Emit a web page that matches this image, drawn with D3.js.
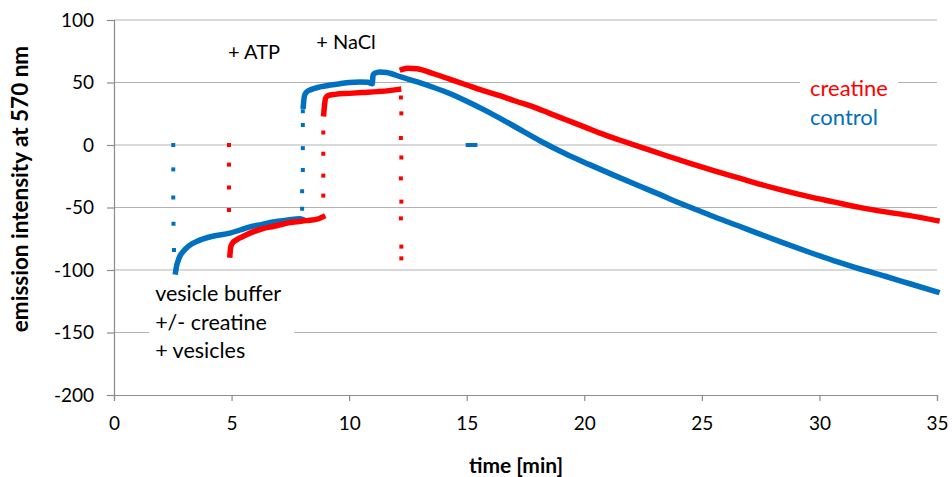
<!DOCTYPE html>
<html>
<head>
<meta charset="utf-8">
<script src="https://cdn.jsdelivr.net/npm/d3@7"></script>
<style>
  html, body { margin: 0; padding: 0; background: #fff; }
  svg { display: block; font-family: Lato, "Noto Sans", sans-serif; }
</style>
</head>
<body>
<svg id="chart" width="952" height="477"></svg>
<script>
// Emission at 570 nm over time; injections appear as isolated points.
const xTicks = [0, 5, 10, 15, 20, 25, 30, 35];
const yTicks = [100, 50, 0, -50, -100, -150, -200];

// control trace, one array per continuous stretch: [time min, intensity]
const controlRise = [
  [2.62,-101.5],[2.66,-97],[2.72,-93],[2.8,-89],[2.95,-85],[3.2,-80.5],[3.6,-76.5],
  [4.2,-73],[4.93,-70.5],[5.36,-68],[5.78,-65.5],[6.3,-63.5],[6.77,-61.5],[7.4,-60],[7.9,-59],[8.0,-59.5]
];
const controlAfterAtp = [
  [8.05,31],[8.08,37],[8.12,40.5],[8.2,42.5],[8.4,44.5],[8.76,46.5],[9.2,48],[9.6,49],
  [10.0,50],[10.46,50.5],[10.8,50.2],[10.98,49],[11.02,56],[11.1,57.5],[11.3,58.5],[11.6,58],
  [12.2,54.5],[12.9,50.5],[13.6,46],[14.3,41],[15.0,35],[15.7,28.5],[16.4,21.5],[17.3,12],
  [18.15,3],[19.2,-7],[20.2,-15.5],[21.3,-24.5],[22.37,-33],[23.2,-39.5],[24.0,-46],[24.8,-52],
  [25.6,-58],[26.6,-65],[27.5,-71.5],[28.5,-78.5],[29.6,-86],[30.6,-92.5],[31.7,-99],
  [32.8,-105],[33.85,-111],[35,-117.5]
];
const controlPoints = [
  [2.52,0],[2.52,-19.5],[2.52,-42],[2.53,-63],[2.55,-84],
  [8.03,27],[8.03,16],[8.03,-2.5],[8.03,-20],[8.0,-37],[8.0,-51],
  [15.04,0],[15.15,0],[15.26,0],[15.37,0]
];

// creatine trace
const creatineRise = [
  [4.93,-88],[4.96,-82],[5.02,-79],[5.2,-76],[5.5,-73],[5.78,-70.5],[6.3,-67],[6.8,-65],
  [7.5,-62],[8.2,-60.5],[8.7,-59],[8.88,-57.5]
];
const creatineAfterAtp = [
  [8.92,25],[8.96,33],[9.0,37.5],[9.1,39.5],[9.4,40.5],[10,41.3],[10.6,42],[11.2,42.7],
  [11.7,43.5],[12.1,44.5]
];
const creatineAfterNaCl = [
  [12.26,60.5],[12.5,61.5],[12.9,61],[13.6,57],[14.3,52.5],[15.0,48],[15.7,43.5],[16.4,39.5],
  [17.1,35],[17.83,30.5],[18.5,25.5],[19.25,20],[20.0,14.5],[20.67,9.5],[21.5,4],[22.37,-1.5],
  [23.4,-8],[24.5,-14.7],[25.5,-20.5],[26.6,-26.5],[27.5,-31.5],[28.5,-36.5],[29.6,-41.5],
  [30.6,-45.5],[31.7,-49.9],[32.8,-53.5],[33.85,-56.5],[35,-60.5]
];
const creatinePoints = [
  [4.89,0],[4.89,-15.7],[4.89,-34],[4.89,-52],
  [8.9,10],[8.9,-7],[8.9,-24.5],[8.9,-40.5],
  [12.2,38],[12.22,25.3],[12.2,5.6],[12.22,-10],[12.2,-26.7],[12.22,-45.3],[12.2,-58.7],
  [12.22,-81.3],[12.22,-90.7]
];

const seriesNames = ["creatine", "control"];
const seriesColors = ["#ff0000", "#0070c0"];
const annotations = [
  { t: 4.85, v: 69, lines: ["+ ATP"] },
  { t: 8.6, v: 77, lines: ["+ NaCl"] },
  { t: 1.75, v: -125, lines: ["vesicle buffer", "+/- creatine", "+ vesicles"] }
];

const svg = d3.select("#chart");
const x = d3.scaleLinear().domain([0, 35]).range([114, 937]);
const y = d3.scaleLinear().domain([-200, 100]).range([395, 20]);

// horizontal gridlines
svg.append("g").selectAll("line").data(yTicks.filter(d => d > -200)).join("line")
  .attr("x1", x(0)).attr("x2", x(35))
  .attr("y1", d => y(d)).attr("y2", d => y(d))
  .attr("stroke", "#b3b3b3").attr("stroke-width", 1.2);

// axes (plain hyphen for negative labels)
const yAxis = svg.append("g").attr("transform", `translate(${x(0)},0)`)
  .call(d3.axisLeft(y).tickValues(yTicks).tickFormat(d => String(d)).tickSize(7).tickPadding(13));
const xAxis = svg.append("g").attr("transform", `translate(0,${y(-200)})`)
  .call(d3.axisBottom(x).tickValues(xTicks).tickFormat(d => String(d)).tickSize(6).tickPadding(16));
[yAxis, xAxis].forEach(a => {
  a.select(".domain").attr("stroke", "#8c8c8c").attr("stroke-width", 1.2);
  a.selectAll(".tick line").attr("stroke", "#8c8c8c").attr("stroke-width", 1.2);
  a.selectAll("text").attr("fill", "#000").style("font-size", "19px").style("font-family", "Lato, sans-serif");
});

// axis titles
svg.append("text").attr("x", 516).attr("y", 473)
  .attr("text-anchor", "middle").style("font-weight", "bold").style("font-size", "21px")
  .text("time [min]");
svg.append("text").attr("transform", "translate(28,189) rotate(-90)")
  .attr("text-anchor", "middle").style("font-weight", "bold").style("font-size", "22.5px")
  .text("emission intensity at 570 nm");

// traces
const line = d3.line().x(d => x(d[0])).y(d => y(d[1])).curve(d3.curveMonotoneX);
const traces = [
  { data: controlRise, c: 1 }, { data: controlAfterAtp, c: 1 },
  { data: creatineRise, c: 0 }, { data: creatineAfterAtp, c: 0 }, { data: creatineAfterNaCl, c: 0 }
];
svg.append("g").selectAll("path").data(traces).join("path")
  .attr("d", d => line(d.data))
  .attr("fill", "none")
  .attr("stroke", d => seriesColors[d.c])
  .attr("stroke-width", 5.5)
  .attr("stroke-linejoin", "round")
  .attr("stroke-linecap", "square");

// isolated readings during injections
const pointSets = [{ data: controlPoints, c: 1 }, { data: creatinePoints, c: 0 }];
pointSets.forEach(s => {
  svg.append("g").selectAll("rect").data(s.data).join("rect")
    .attr("x", d => x(d[0]) - 2).attr("y", d => y(d[1]) - 2)
    .attr("width", 4).attr("height", 4)
    .attr("fill", seriesColors[s.c]);
});

// legend
const legend = svg.append("g");
legend.append("rect").attr("x", 800).attr("y", 70).attr("width", 98).attr("height", 60).attr("fill", "#fff");
seriesNames.forEach((n, i) => {
  legend.append("text").attr("x", 810).attr("y", 96 + i * 29)
    .attr("fill", seriesColors[i]).style("font-size", "22px").text(n);
});

// annotation labels
annotations.forEach(a => {
  const g = svg.append("g");
  const lh = 28.5;
  if (a.lines.length > 1) {
    g.append("rect").attr("x", x(a.t) - 6).attr("y", y(a.v) - 20)
      .attr("width", 145).attr("height", lh * a.lines.length + 6).attr("fill", "#fff");
  }
  a.lines.forEach((t, i) => {
    g.append("text").attr("x", x(a.t)).attr("y", y(a.v) + i * lh)
      .style("font-size", a.lines.length > 1 ? "21.5px" : "20px").attr("fill", "#000").text(t);
  });
});
</script>
</body>
</html>
